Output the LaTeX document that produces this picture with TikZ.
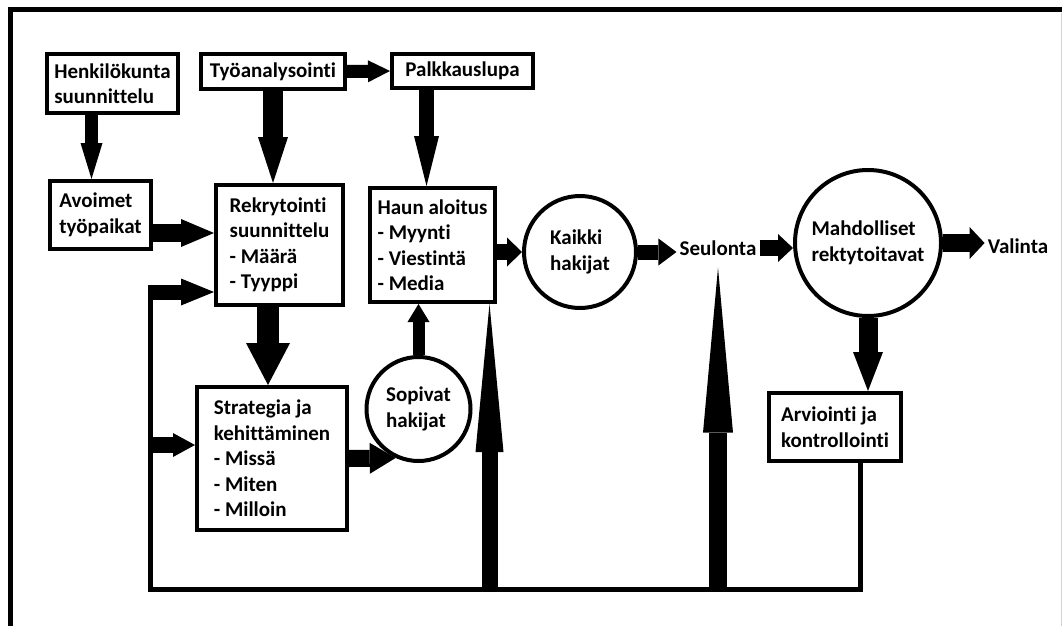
\documentclass[tikz,border=0pt]{standalone}
\usepackage{fontspec}
\setmainfont{Carlito}[Ligatures=NoCommon]
\usetikzlibrary{arrows.meta}
\tikzset{
  rk@box/.style={
    draw=black, line width=4pt, fill=white,
    align=left, inner sep=3pt,
    font=\fontsize{21}{25.5}\selectfont\bfseries
  },
  rk@circ/.style={
    circle, draw=black, line width=4pt, fill=white,
    align=left, inner sep=0pt,
    font=\fontsize{21}{25.5}\selectfont\bfseries
  },
  rk@lbl/.style={inner sep=3pt, font=\fontsize{21}{25.5}\selectfont\bfseries},
  rk@arr/.style n args={3}{line width=#1pt, -{Triangle[width=#2pt, length=#3pt, line width=0pt]}},
  rk@loop/.style={line width=5pt},
  rk@frame/.style={line width=5pt},
}

\begin{document}
\begin{tikzpicture}[x=1pt, y=-1pt]
  \useasboundingbox (0,0) rectangle (1062,626);
  \draw[rk@frame] (10,626) -- (10,10) -- (1062,10);
  \draw[gray!35, line width=1pt] (1061,13) -- (1061,626);

  \node[rk@box, minimum width=131pt, minimum height=59pt]  (henk)   at (112.5,83.5) {Henkilökunta\\suunnittelu};
  \node[rk@box, minimum width=144pt, minimum height=35pt]  (tyo)    at (273,71.5)   {Työanalysointi};
  \node[rk@box, minimum width=141pt, minimum height=34pt]  (palkka) at (462.5,71)   {Palkkauslupa};
  \node[rk@box, minimum width=101pt, minimum height=68pt]  (avoin)  at (100.5,215)  {Avoimet\\työpaikat};
  \node[rk@box, minimum width=127pt, minimum height=120pt] (rekry)  at (279.5,245)  {Rekrytointi\\suunnittelu\\- Määrä\\- Tyyppi};
  \node[rk@box, minimum width=125pt, minimum height=114pt] (haun)   at (432.5,245)  {Haun aloitus\\- Myynti\\- Viestintä\\- Media};
  \node[rk@box, minimum width=150pt, minimum height=143pt] (strat)  at (272,458.5)  {Strategia ja\\kehittäminen\\- Missä\\- Miten\\- Milloin};
  \node[rk@box, minimum width=132pt, minimum height=68pt]  (arvi)   at (835,427)    {Arviointi ja\\kontrollointi};
  \node[rk@circ, minimum size=112pt] (kaikki) at (580,252)   {Kaikki\\hakijat};
  \node[rk@circ, minimum size=146pt] (mahd)   at (868,243)   {Mahdolliset\\rektytoitavat};
  \node[rk@circ, minimum size=104pt] (sop)    at (418.5,409) {Sopivat\\hakijat};
  \node[rk@lbl] (seul)    at (718,248)  {Seulonta};
  \node[rk@lbl] (valinta) at (1018,246) {Valinta};

  \coordinate (a1) at ([xshift=-9pt]avoin.north);
  \coordinate (a4) at ([xshift=-6pt]haun.north);
  \coordinate (a5) at ([yshift=-18pt]avoin.east);
  \coordinate (a6) at ([xshift=-4pt]strat.north);
  \coordinate (a16) at ([xshift=57pt]haun.south);
  \coordinate (a17) at ([yshift=-9pt]seul.south);
  \coordinate (fbE) at ([xshift=25pt]arvi.south);
  \coordinate (fbSW) at (150,589);
  \coordinate (fbNW) at (150,292);
  \coordinate (fbMid) at (150,445);

  \draw[rk@arr={13}{22}{36}] (a1 |- henk.south) -- (a1);
  \draw[rk@arr={20}{30}{46}] (tyo.south) -- (tyo.south |- rekry.north);
  \draw[rk@arr={13}{22}{22}] (tyo.east) -- (palkka.west);
  \draw[rk@arr={15}{25}{50}] (a4 |- palkka.south) -- (a4);
  \draw[rk@arr={18}{28}{33}] (a5) -- (a5 -| rekry.west);
  \draw[rk@arr={22}{44}{42}] (a6 |- rekry.south) -- (a6);
  \draw[rk@arr={16}{29}{15}] (haun.east |- kaikki.west) -- (kaikki.west);
  \draw[rk@arr={15}{27}{18}] (kaikki.east) -- (kaikki.east -| seul.west);
  \draw[rk@arr={16}{28}{15}] (seul.east) -- (seul.east -| mahd.west);
  \draw[rk@arr={18}{32}{15}] (mahd.east) -- (mahd.east -| valinta.west);
  \draw[rk@arr={19}{30}{39}] (mahd.south) -- (mahd.south |- arvi.north);
  \draw[rk@arr={17}{31}{26}] (strat.east) -- (sop.-115);
  \draw[rk@arr={12}{22}{18}] (sop.north) -- (sop.north |- haun.south);

  \draw[rk@loop] (fbE) |- (fbSW) -- (fbNW);
  \draw[rk@arr={15}{27}{33}] ([xshift=-2.5pt]fbNW) -- (fbNW -| rekry.west);
  \draw[rk@arr={16}{24}{22}] (fbMid) -- (fbMid -| strat.west);
  \draw[rk@arr={16}{28}{148}] (a16 |- fbSW) -- (a16);
  \draw[rk@arr={18}{30}{165}] (a17 |- fbSW) -- (a17);
\end{tikzpicture}
\end{document}
